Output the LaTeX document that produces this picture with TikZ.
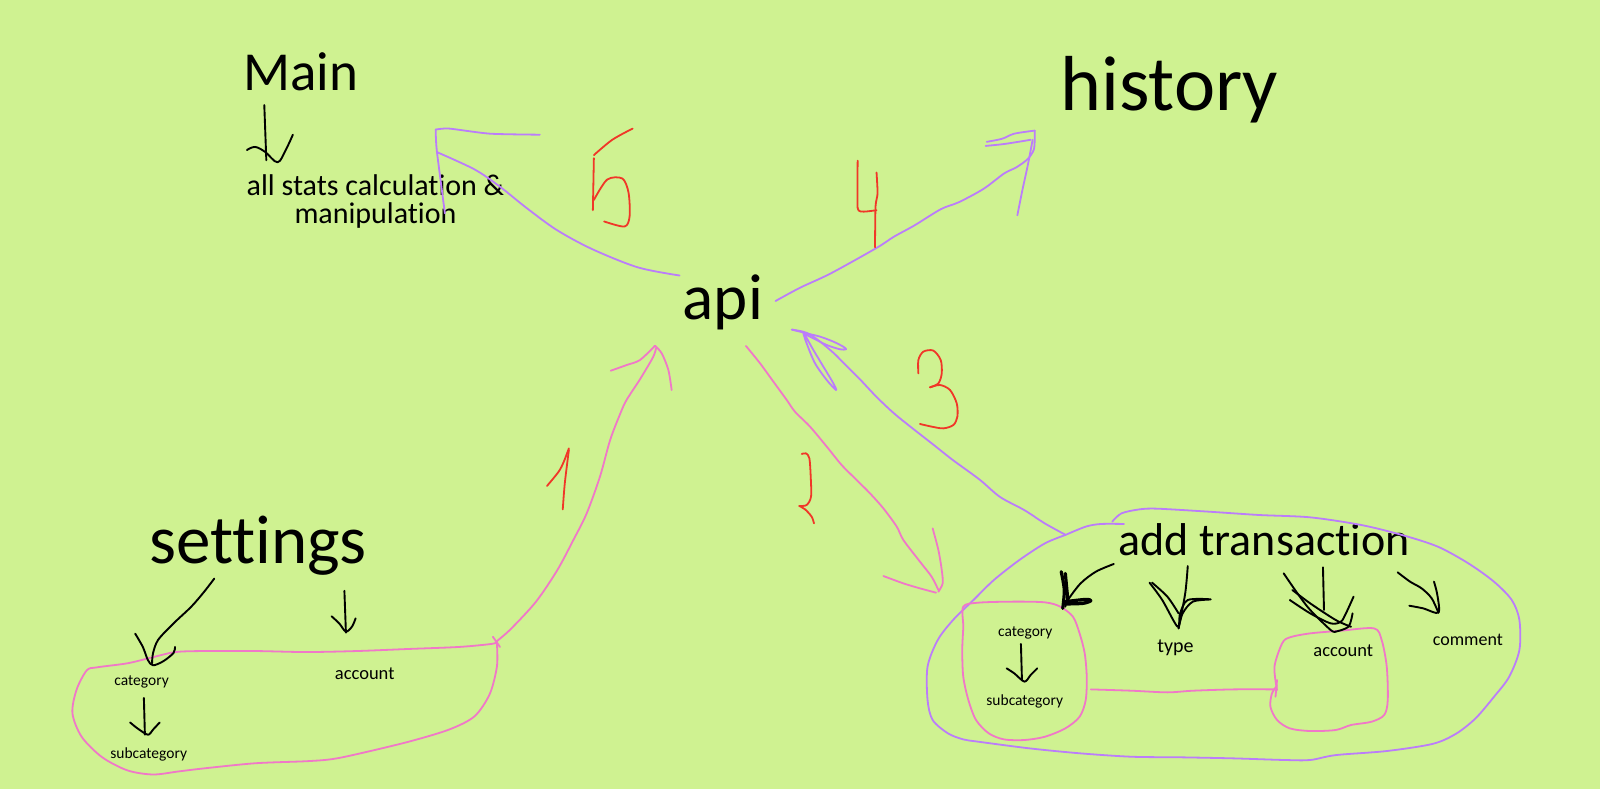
\documentclass[tikz,border=0pt]{standalone}
\usepackage{fontspec}
\setmainfont{Carlito}[Ligatures={NoCommon}]
\definecolor{bg}{RGB}{207,242,145}
\definecolor{penpurple}{RGB}{187,125,250}
\definecolor{penpink}{RGB}{240,120,200}
\definecolor{penred}{RGB}{240,55,40}
\tikzset{
  purp/.style={draw=penpurple, line width=1.8pt, line cap=round, line join=round},
  pinkpen/.style={draw=penpink, line width=1.8pt, line cap=round, line join=round},
  redpen/.style={draw=penred, line width=1.8pt, line cap=round, line join=round},
  blackpen/.style={draw=black, line width=1.9pt, line cap=round, line join=round},
  thickpen/.style={draw=black, line width=3.2pt, line cap=round, line join=round},
  lbl/.style={anchor=base west, inner sep=0pt, text=black},
  lblc/.style={anchor=base, inner sep=0pt, text=black},
}
\newcommand{\fs}[1]{\fontsize{#1}{#1}\selectfont}
\begin{document}
\begin{tikzpicture}[x=1.0204pt,y=-1.0204pt]
\fill[bg] (0,0) rectangle (1568,773);
\useasboundingbox (0,0) rectangle (1568,773);

% ---------- texts ----------
\node[lbl, font=\fs{55}] (main) at (238,89) {Main};
\node[lbl, font=\fs{78}] (history) at (1039,108) {history};
\node[lbl, font=\fs{65}] (api) at (669,313) {api};
\node[lbl, font=\fs{69}] (settings) at (146,552) {settings};
\node[lbl, font=\fs{46}] (addtx) at (1096,544) {add transaction};
\node[lblc, font=\fs{30}] (stats1) at (368,192) {all stats calculation \&};
\node[lblc, font=\fs{30}] (stats2) at (368,219.5) {manipulation};
\node[lbl, font=\fs{15.5}] (scat) at (112,672) {category};
\node[lbl, font=\fs{15.5}] (ssub) at (108,743) {subcategory};
\node[lbl, font=\fs{18.5}] (sacc) at (328,665.5) {account};
\node[lbl, font=\fs{15.5}] (tcat) at (978,624) {category};
\node[lbl, font=\fs{15.5}] (tsub) at (966.5,691) {subcategory};
\node[lbl, font=\fs{20}] (ttype) at (1134,639.5) {type};
\node[lbl, font=\fs{18.5}] (tacc) at (1287,643.5) {account};
\node[lbl, font=\fs{18}] (tcom) at (1404,632.5) {comment};

% ---------- Main -> stats arrow ----------
\draw[blackpen] (259,103) -- (261,157);
\draw[blackpen] plot[smooth, tension=0.6] coordinates {(242,147) (250,144) (260,149) (272,159) (280,147) (287,132)};

% ---------- arrow 5 (api -> Main) ----------
\draw[purp] plot[smooth, tension=0.5] coordinates {(666,270) (625,262) (580,244) (545,225) (515,203) (490,183) (465,166) (428,149)};
\draw[purp] plot[smooth, tension=0.4] coordinates {(529,132) (480,131) (440,126) (427,127)};
\draw[purp] plot[smooth, tension=0.4] coordinates {(427,127) (428,147) (436,209)};
\draw[redpen] plot[smooth, tension=0.5] coordinates {(620,126) (600,137) (582,152)};
\draw[redpen] (582,155) -- (581,206);
\draw[redpen] plot[smooth, tension=0.5] coordinates {(582,196) (595,176) (610,175) (616,189) (617,212) (612,222) (592,217)};

% ---------- arrow 4 (api -> history) ----------
\draw[purp] plot[smooth, tension=0.5] coordinates {(760,295) (784,282) (814,268) (859,243) (876,232) (896,221) (922,205) (940,198) (964,185) (984,170) (996,164) (1007,156) (1013,147) (1014,137) (1014,128)};
\draw[purp] plot[smooth, tension=0.5] coordinates {(1014,128) (994,131) (982,136) (967,139)};
\draw[purp] plot[smooth, tension=0.5] coordinates {(966,143) (985,141) (1010,137)};
\draw[purp] plot[smooth, tension=0.5] coordinates {(1012,137) (1007,163) (1002,186) (997,211)};
\draw[redpen] plot[smooth, tension=0.3] coordinates {(840.5,157.5) (840.5,204) (846.5,207.4) (859,206)};
\draw[redpen] plot[smooth, tension=0.4] coordinates {(859,169) (860,189.5) (858,202.5) (857.5,242.4)};

% ---------- settings loop and arrow 1 ----------
\draw[pinkpen] plot[smooth, tension=0.5] coordinates {(487,629) (482,631) (450,634) (400,636) (350,638) (300,639) (250,638) (200,638) (172,639) (150,644) (125,650) (95,654) (85,657) (75,676) (71,699) (80,722) (100,742) (125,755) (150,759) (175,756) (200,753) (250,748) (300,746) (325,744) (350,739) (400,727) (440,715) (465,702) (480,680) (487,653) (487,631)};
\draw[pinkpen] (483,624) -- (490,634);
\draw[pinkpen] plot[smooth, tension=0.5] coordinates {(486,629) (500,617) (525,590) (546,559) (562,529) (575,503) (588,467) (598,431) (608,405) (614,392) (627,372) (640,350) (643,341)};
\draw[pinkpen] plot[smooth, tension=0.5] coordinates {(598.5,363.3) (614.2,357.7) (627.2,352.8) (641.9,338.8)};
\draw[pinkpen] plot[smooth, tension=0.5] coordinates {(641.9,338.8) (648.5,346.3) (655,362.6) (658.2,382.2)};
\draw[redpen] plot[smooth, tension=0.5] coordinates {(557.5,439.4) (552.5,452.5) (547.5,462.2) (536,476.3)};
\draw[redpen] plot[smooth, tension=0.5] coordinates {(557.5,441) (553.5,473.6) (551.5,499.2)};

% settings inner arrows
\draw[blackpen] plot[smooth, tension=0.5] coordinates {(210,567) (200,580) (187.5,594.5) (170,611) (155,627) (150,640) (149,650)};
\draw[blackpen] plot[smooth, tension=0.5] coordinates {(132.5,621) (140,634) (145,647) (150,652) (160,648) (170,640) (171.5,634)};
\draw[blackpen] (337.5,579) -- (339,620);
\draw[blackpen] plot[smooth, tension=0.5] coordinates {(325,604) (332.5,611) (339,619) (345,614) (348.5,606)};
\draw[blackpen] (141,684) -- (142,720);
\draw[blackpen] plot[smooth, tension=0.5] coordinates {(127.5,708) (135,714) (145,720) (150,715) (156.5,708)};

% ---------- arrow 2 (api -> add transaction) ----------
\draw[pinkpen] plot[smooth, tension=0.5] coordinates {(731,339) (744.8,356) (757.9,374) (771,392) (779,403.4) (793.8,418.1) (810.2,437.7) (824.8,455.7) (839.5,470.4) (852.6,483.5) (865.7,498.2) (878.8,516.1) (885.3,529.2) (901.6,550.5) (913,565.2) (919.6,578.2)};
\draw[pinkpen] plot[smooth, tension=0.5] coordinates {(865.7,564.5) (885.3,571.7) (901.6,576.6) (917.3,580.8)};
\draw[pinkpen] plot[smooth, tension=0.5] coordinates {(914,517.8) (919.6,539) (922.9,558.6) (923.8,571.7) (919.6,579.9)};
\draw[redpen] plot[smooth, tension=0.5] coordinates {(785.7,444.9) (789.9,444.3) (793.2,449.2) (794.5,467.1) (794.8,486.7) (790.5,494.9) (783.3,495.9)};
\draw[redpen] plot[smooth, tension=0.5] coordinates {(783.3,495.9) (788.9,499.1) (795.4,506.3) (797.7,512.9)};

% ---------- arrow 3 (add transaction -> api) ----------
\draw[purp] plot[smooth, tension=0.5] coordinates {(1044,524) (1024,513) (1004,500) (980,487) (960,470) (934,451) (915,436) (892,418) (876,405) (859,389) (843,372) (827,356) (817,346) (804,335) (794,328) (787,325) (776,323)};
\draw[purp] plot[smooth, tension=0.5] coordinates {(776,323) (790.5,326.7) (803.6,329.9) (816.7,334.8) (826.5,339.8) (829.1,342.3) (823.2,342.3) (810.2,338.1) (797.1,331.6) (787.3,326.7)};
\draw[purp] plot[smooth, tension=0.5] coordinates {(787.3,326.7) (790.5,336.5) (798.7,356) (810.2,372.4) (819.3,382.2) (816.7,375.7) (806.9,359.3) (797.1,343) (788.9,328.3)};
\draw[redpen] plot[smooth, tension=0.5] coordinates {(900,365.9) (900,352.8) (904.9,344.6) (914.7,343.6) (921.9,352.8) (922.9,365.9) (919.6,375.7) (911.4,379.6)};
\draw[redpen] plot[smooth, tension=0.5] coordinates {(911.4,379.6) (921.2,377.3) (931,382.2) (937.6,395.3) (938.2,408.4) (934.3,416.5) (924.5,419.8) (913,418.1) (901.6,415.5)};

% ---------- add transaction loop ----------
\draw[purp] plot[smooth, tension=0.5] coordinates {(1044,524.3) (1064,516.1) (1079,513.5) (1101.5,513.5)};
\draw[purp] plot[smooth, tension=0.5] coordinates {(1090,511.2) (1099,503.1) (1116.5,499.2) (1134,498.5) (1184,501.4) (1234,504.7) (1284,507) (1334,514.5) (1374,524.3) (1409,535.7) (1439,552.1) (1464,570) (1481.5,588) (1489,607.6) (1489,637) (1479,663.2) (1464,683) (1446,704) (1427,719) (1404,729) (1359,736) (1309,740) (1284,744.8) (1259,744.8) (1209,743.2) (1159,742.2) (1109,741.6) (1059,738.3) (1009,733.4) (959,726.9) (944,724.6) (929,718.7) (914,705.6) (909,686) (909,653.3) (919,627.2) (934,607.6) (954,588) (974,568.4) (999,548.8) (1024,532.5) (1044,524.3)};

% inner pink boxes
\draw[pinkpen] plot[smooth cycle, tension=0.5] coordinates {(944,594.5) (959,590.6) (994,589.6) (1024,590.3) (1039,594.5) (1051.5,604.4) (1058,620.7) (1063,640.3) (1065,663.2) (1064,686) (1058,702.4) (1044,713.8) (1024,722) (1004,725.2) (984,724.6) (969,718.7) (956.5,705.6) (949,686) (944,663.2) (943,637) (944,614.2)};
\draw[pinkpen] plot[smooth, tension=0.5] coordinates {(1069,675.6) (1109,676.9) (1144,678.5) (1169,676.9) (1209,675.6) (1249,675.6)};
\draw[pinkpen] (1251.5,666.4) -- (1250,682.8);
\draw[pinkpen] plot[smooth, tension=0.5] coordinates {(1251.5,676.2) (1249,653.3) (1256.5,630.5) (1264,624.6) (1284,620.7) (1314,618.1) (1346.5,615.8) (1354,627.2) (1359,653.3) (1360,686) (1356.5,700.7) (1344,707.3) (1324,710.5) (1309,715.4) (1284,716.4) (1264,713.8) (1251.5,705.6) (1245,692.6) (1246.5,679.5) (1251.5,672)};

% black arrows inside add transaction
\draw[blackpen] plot[smooth, tension=0.5] coordinates {(1091.5,552.7) (1074,560.2) (1059,571.7) (1046.5,588) (1044,594.5)};
\draw[thickpen] plot[smooth, tension=0.5] coordinates {(1040,560.2) (1043,578.2) (1041.5,596.2)};
\draw[thickpen] (1044,561.9) -- (1046.5,588);
\draw[thickpen] plot[smooth, tension=0.5] coordinates {(1044,589.6) (1064,587.4) (1069,588.7) (1061.5,591.3) (1044,591.9)};

\draw[blackpen] plot[smooth, tension=0.5] coordinates {(1164,554.7) (1161.5,581.5) (1155,615.8)};
\draw[blackpen] plot[smooth, tension=0.5] coordinates {(1126.5,571) (1139,588) (1154,614.2) (1156.5,601.1) (1164,588) (1186.5,587.4) (1169,589.6) (1159,601.1) (1155,615.8)};
\draw[blackpen] plot[smooth, tension=0.5] coordinates {(1129,571) (1144,584.7) (1155,601.1)};

\draw[blackpen] (1296.5,556) -- (1297.5,597.8);
\draw[blackpen] plot[smooth, tension=0.5] coordinates {(1258,561.9) (1271.5,581.5) (1284,597.8) (1304,617.4) (1309,619)};
\draw[blackpen] plot[smooth, tension=0.5] coordinates {(1264,588) (1284,601.1) (1304,610.9) (1314,609.3) (1319,601.1) (1326.5,584.7)};
\draw[blackpen] plot[smooth, tension=0.5] coordinates {(1266.5,578.2) (1284,591.3) (1309,607.6) (1324,614.2)};
\draw[blackpen] plot[smooth, tension=0.5] coordinates {(1309,619) (1321.5,614.2) (1325.5,601.1)};

\draw[blackpen] plot[smooth, tension=0.5] coordinates {(1369.7,560.9) (1381.8,570) (1393.2,576.6) (1403,586.3) (1409.6,600.4)};
\draw[blackpen] plot[smooth, tension=0.5] coordinates {(1381.1,593.6) (1394.8,596.2) (1409.6,600.4) (1408.6,583.1) (1405.3,570)};

\draw[blackpen] (1000.5,631.1) -- (1001.5,666.4);
\draw[blackpen] plot[smooth, tension=0.5] coordinates {(986.5,655) (994,659.9) (1004,668) (1010,661.5) (1016.5,655)};
\end{tikzpicture}
\end{document}
